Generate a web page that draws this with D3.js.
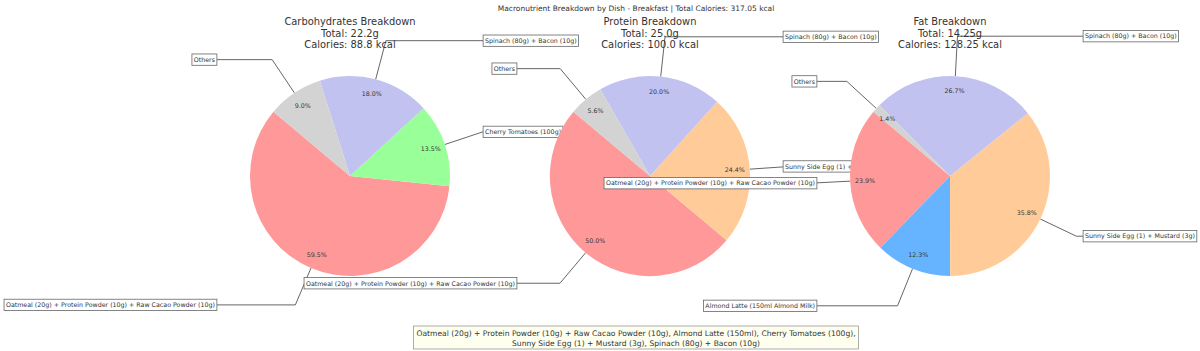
<!DOCTYPE html>
<html>
<head>
<meta charset="utf-8">
<script src="https://cdn.jsdelivr.net/npm/d3@7"></script>
<style>
  body { margin: 0; background: #fff; }
  text { font-family: "DejaVu Sans", sans-serif; fill: #333; }
</style>
</head>
<body>
<div id="chart"></div>
<script>
// figure size
const width = 1200, height = 351;

// data
const suptitle = "Macronutrient Breakdown by Dish - Breakfast | Total Calories: 317.05 kcal";
const nutrients = ["Carbohydrates", "Protein", "Fat"];
const totals = [22.2, 25.0, 14.25];
const calories = [88.8, 100.0, 128.25];

const carbDishes = ["Oatmeal (20g) + Protein Powder (10g) + Raw Cacao Powder (10g)", "Cherry Tomatoes (100g)", "Spinach (80g) + Bacon (10g)", "Others"];
const carbGrams = [13.2, 3.0, 4.0, 2.0];

const proteinDishes = ["Oatmeal (20g) + Protein Powder (10g) + Raw Cacao Powder (10g)", "Sunny Side Egg (1) + Mustard (3g)", "Spinach (80g) + Bacon (10g)", "Others"];
const proteinGrams = [12.5, 6.1, 5.0, 1.4];

const fatDishes = ["Oatmeal (20g) + Protein Powder (10g) + Raw Cacao Powder (10g)", "Almond Latte (150ml Almond Milk)", "Sunny Side Egg (1) + Mustard (3g)", "Spinach (80g) + Bacon (10g)", "Others"];
const fatGrams = [3.4, 1.75, 5.1, 3.8, 0.2];

const footerLines = [
  "Oatmeal (20g) + Protein Powder (10g) + Raw Cacao Powder (10g), Almond Latte (150ml), Cherry Tomatoes (100g),",
  "Sunny Side Egg (1) + Mustard (3g), Spinach (80g) + Bacon (10g)"
];

const dishColor = {
  "Oatmeal (20g) + Protein Powder (10g) + Raw Cacao Powder (10g)": "#ff9999",
  "Almond Latte (150ml Almond Milk)": "#66b3ff",
  "Cherry Tomatoes (100g)": "#99ff99",
  "Sunny Side Egg (1) + Mustard (3g)": "#ffcc99",
  "Spinach (80g) + Bacon (10g)": "#c2c2f0",
  "Others": "#d3d3d3"
};

const pies = [
  {dishes: carbDishes, grams: carbGrams},
  {dishes: proteinDishes, grams: proteinGrams},
  {dishes: fatDishes, grams: fatGrams}
];

// layout
const centersX = [350, 650, 950], centerY = 176, radius = 100;
const startDeg = 140;   // matplotlib startangle, counter clockwise
const titleSize = 9.9, labelSize = 6.3, pctSize = 6.3;

const fmt = v => Number.isInteger(v) ? v.toFixed(1) : String(v);
const rad = d => d * Math.PI / 180;

let svg = d3.select('#chart')
  .append('svg')
    .attr('width', width)
    .attr('height', height);

// d3 angles run clockwise from 12 o'clock, so go negative for counter clockwise
const pie = d3.pie()
  .sort(null)
  .startAngle(rad(90 - startDeg))
  .endAngle(rad(90 - startDeg - 360));

const arc = d3.arc().innerRadius(0).outerRadius(radius);

pies.forEach((p, k) => {
  const cx = centersX[k];
  const x = d3.scaleLinear().domain([-1, 1]).range([cx - radius, cx + radius]);
  const y = d3.scaleLinear().domain([-1, 1]).range([centerY + radius, centerY - radius]);
  const total = d3.sum(p.grams);
  const arcs = pie(p.grams);

  let g = svg.append('g');

  // annotations sit below the wedges
  let ann = g.append('g');
  arcs.forEach((a, i) => {
    const mid = Math.PI / 2 - (a.startAngle + a.endAngle) / 2;
    const ux = Math.cos(mid), uy = Math.sin(mid);
    const sx = Math.sign(ux);
    const tx = x(1.35 * sx), ty = y(1.4 * uy);

    ann.append('polyline')
      .attr('points', [[x(ux), y(uy)], [x(1.4 * ux), y(1.4 * uy)], [tx + sx * 20, ty]].join(' '))
      .attr('fill', 'none')
      .attr('stroke', '#555')
      .attr('stroke-width', 0.9);

    const box = ann.append('rect');
    const t = ann.append('text')
      .attr('x', tx)
      .attr('y', ty)
      .attr('dy', '0.36em')
      .attr('text-anchor', sx > 0 ? 'start' : 'end')
      .style('font-size', labelSize + 'px')
      .text(p.dishes[i]);
    const bb = t.node().getBBox();
    const pad = 0.3 * labelSize;
    box.attr('x', bb.x - pad)
      .attr('y', ty - labelSize * 0.6 - pad)
      .attr('width', bb.width + 2 * pad)
      .attr('height', labelSize * 1.2 + 2 * pad)
      .attr('fill', '#fff')
      .attr('stroke', '#666')
      .attr('stroke-width', 0.8);
  });

  // wedges
  g.append('g')
    .attr('transform', `translate(${cx},${centerY})`)
    .selectAll('path')
    .data(arcs)
    .join('path')
      .attr('d', arc)
      .attr('fill', (d, i) => dishColor[p.dishes[i]]);

  // percent labels
  g.append('g')
    .selectAll('text')
    .data(arcs)
    .join('text')
      .attr('x', d => x(0.85 * Math.cos(Math.PI / 2 - (d.startAngle + d.endAngle) / 2)))
      .attr('y', d => y(0.85 * Math.sin(Math.PI / 2 - (d.startAngle + d.endAngle) / 2)))
      .attr('dy', '0.36em')
      .attr('text-anchor', 'middle')
      .style('font-size', pctSize + 'px')
      .text(d => (d.value / total * 100).toFixed(1) + '%');

  // title
  const titleLines = [
    nutrients[k] + " Breakdown",
    "Total: " + fmt(totals[k]) + "g",
    "Calories: " + fmt(calories[k]) + " kcal"
  ];
  g.append('g')
    .selectAll('text')
    .data(titleLines)
    .join('text')
      .attr('x', cx)
      .attr('y', (d, i) => 25 + i * 11.6)
      .attr('text-anchor', 'middle')
      .style('font-size', titleSize + 'px')
      .text(d => d);
});

// figure title
svg.append('text')
  .attr('x', 636)
  .attr('y', 10.5)
  .attr('text-anchor', 'middle')
  .style('font-size', '7.5px')
  .text(suptitle);

// footer box
let foot = svg.append('g');
const footBox = foot.append('rect');
const footText = foot.selectAll('text')
  .data(footerLines)
  .join('text')
    .attr('x', 636)
    .attr('y', (d, i) => 335.5 + i * 10)
    .attr('text-anchor', 'middle')
    .style('font-size', '7.6px')
    .text(d => d);
let fb = foot.node().getBBox();
footBox.attr('x', fb.x - 3)
  .attr('y', fb.y - 2.5)
  .attr('width', fb.width + 6)
  .attr('height', fb.height + 4)
  .attr('fill', '#fffff0')
  .attr('stroke', '#999')
  .attr('stroke-width', 0.8);
</script>
</body>
</html>
